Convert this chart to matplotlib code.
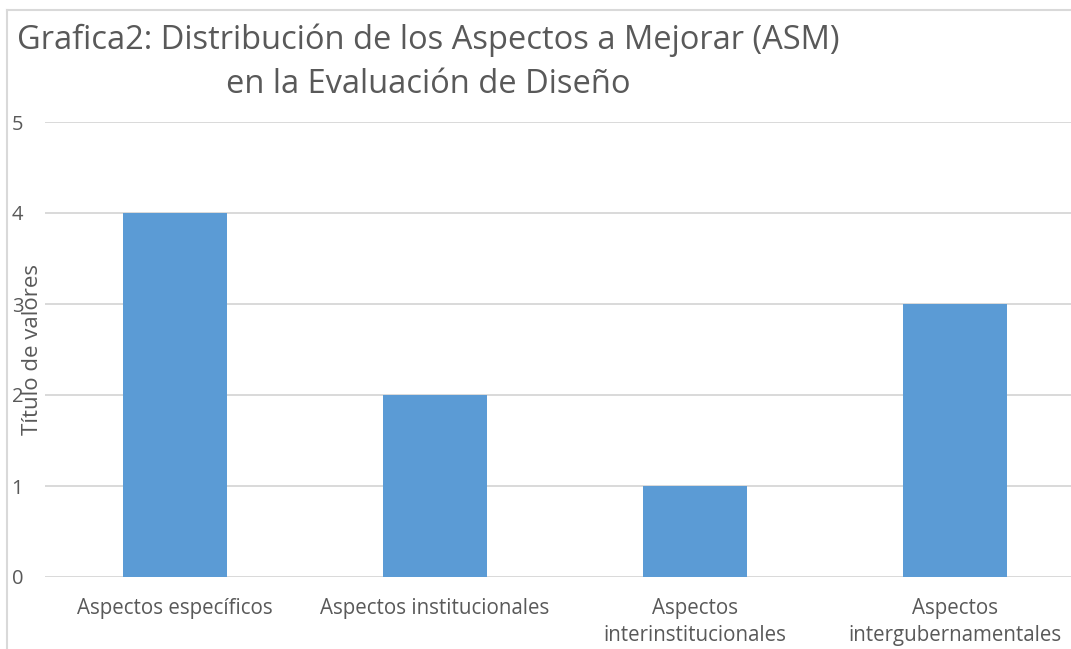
import matplotlib
matplotlib.use("Agg")
import matplotlib.pyplot as plt
from matplotlib.lines import Line2D

categorias = ["Aspectos específicos", "Aspectos institucionales",
              "Aspectos\ninterinstitucionales", "Aspectos\nintergubernamentales"]
valores = [4, 2, 1, 3]
yticks = [0, 1, 2, 3, 4, 5]

gris = "#595959"
linea = "#d9d9d9"
plt.rcParams["font.family"] = ["Open Sans", "DejaVu Sans"]

W, H = 1071, 649
fig = plt.figure(figsize=(W / 100, H / 100), dpi=100)

# area de trazado (se sale un poco por la derecha como en el original)
ax = fig.add_axes([45 / W, (H - 577) / H, 1040 / W, 455 / H])
ax.bar(range(len(valores)), valores, width=0.4, color="#5b9bd5", zorder=3)
ax.set_xlim(-0.5, len(valores) - 0.5)
ax.set_ylim(0, 5)
ax.set_yticks(yticks)
ax.set_xticks(range(len(categorias)))
ax.set_xticklabels(categorias, fontsize=14.8, color=gris, linespacing=1.4)
ax.tick_params(axis="x", length=0, pad=15)
ax.tick_params(axis="y", length=0, labelsize=14.5, labelcolor=gris)
for t in ax.get_yticklabels():
    t.set_horizontalalignment("left")
ax.tick_params(axis="y", pad=24)
ax.grid(axis="y", color=linea, linewidth=1.4, zorder=0)
for s in ax.spines.values():
    s.set_visible(False)

ax.set_ylabel("Título de valores", fontsize=16, color=gris, va="center")
ax.yaxis.set_label_coords(-13 / 1040, 0.5)

# titulo
fig.text(428 / W, 1 - 49 / H, "Grafica2: Distribución de los Aspectos a Mejorar (ASM)",
         ha="center", va="baseline", fontsize=23.5, color=gris)
fig.text(428 / W, 1 - 93 / H, "en la Evaluación de Diseño",
         ha="center", va="baseline", fontsize=23.5, color=gris)

# borde del grafico
fig.add_artist(Line2D([7 / W, 7 / W], [0, 1 - 10 / H], color=linea, lw=1.5,
                      transform=fig.transFigure))
fig.add_artist(Line2D([7 / W, 1], [1 - 10 / H, 1 - 10 / H], color=linea, lw=1.5,
                      transform=fig.transFigure))

fig.savefig("out.png", dpi=100)
